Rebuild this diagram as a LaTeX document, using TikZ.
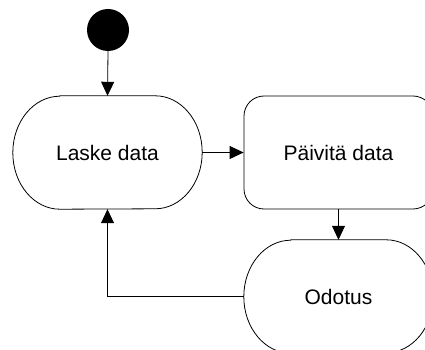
\documentclass[tikz,border=0pt]{standalone}
\usepackage{fontspec}
\setmainfont{Liberation Sans}
\usetikzlibrary{arrows.meta}
\begin{document}
\begin{tikzpicture}[x=1pt,y=-1pt,
  box/.style={minimum width=189pt,minimum height=113pt,inner sep=0pt,font=\fontsize{21}{25}\selectfont},
  conn/.style={line width=0.8pt,-{Triangle[length=14pt,width=13pt]}},
  shapeline/.style={line width=0.8pt}]
\useasboundingbox (0,0) rectangle (425,350);
\clip (0,0) rectangle (425,350);
\node[circle,fill=black,minimum size=42pt,inner sep=0pt] (start) at (108,30) {};
\node[box] (laske) at (107.5,152.5) {Laske data};
\node[box,draw,shapeline,rounded corners=20pt] (paivita) at (338.5,152.5) {Päivitä data};
\node[box] (odotus) at (338.5,296.5) {Odotus};
\foreach \n in {laske,odotus}{
  \draw[shapeline] ([xshift=47pt]\n.north west) -- ([xshift=-47pt]\n.north east)
    arc[start angle=90,end angle=-90,x radius=47pt,y radius=56.5pt]
    -- ([xshift=47pt]\n.south west)
    arc[start angle=270,end angle=90,x radius=47pt,y radius=56.5pt] -- cycle;
}
\draw[conn] (start.south) -- (laske.north);
\draw[conn] (laske.east) -- (paivita.west);
\draw[conn] (paivita.south) -- (odotus.north);
\draw[conn] (odotus.west) -| (laske.south);
\end{tikzpicture}
\end{document}
